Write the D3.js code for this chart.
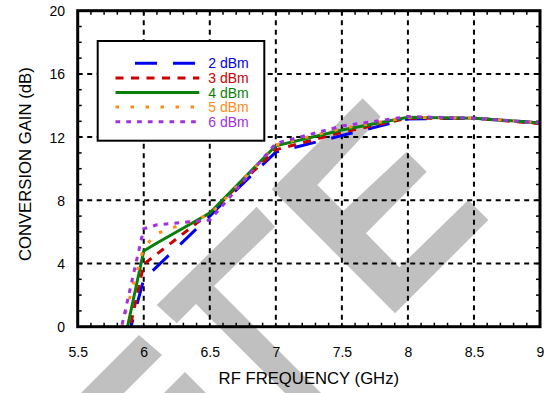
<!DOCTYPE html>
<html>
<head>
<meta charset="utf-8">
<script src="https://cdn.jsdelivr.net/npm/d3@7"></script>
<style>
  body { margin: 0; background: #fff; }
  svg { display: block; font-family: "Liberation Sans", Arial, sans-serif; }
</style>
</head>
<body>
<div class="chart"></div>
<script>
// Data
var freq  = [5.8, 5.9, 6.0, 6.1, 6.5, 6.6, 7.0, 7.5, 8.0, 8.5, 9.0];
var gain2 = [-3.2, -0.1, 3.0, 3.8, 7.0, 7.85, 11.05, 12.1, 13.15, 13.2, 12.9];
var gain3 = [-3.6, 0.1, 3.95, 4.6, 7.2, 8.0, 11.2, 12.3, 13.2, 13.2, 12.85];
var gain4 = [-3.0, 0.9, 4.8, 5.3, 7.2, 8.05, 11.45, 12.45, 13.25, 13.2, 12.9];
var gain5 = [-1.0, 2.0, 5.0, 5.9, 7.1, 7.95, 11.5, 12.55, 13.25, 13.2, 12.9];
var gain6 = [-1.2, 2.5, 6.2, 6.45, 6.75, 7.7, 11.6, 12.7, 13.3, 13.2, 12.9];
var seriesNames = ["2 dBm", "3 dBm", "4 dBm", "5 dBm", "6 dBm"];
var xTicks = [5.5, 6, 6.5, 7, 7.5, 8, 8.5, 9];
var yTicks = [0, 4, 8, 12, 16, 20];

var colors = ["#0000f0", "#cc0000", "#0a800a", "#ff8c1a", "#a030e0"];
var dashes = ["22,16", "8,7.5", null, "3.5,11.5", "4.7,6.1"];
var allGains = [gain2, gain3, gain4, gain5, gain6];

var svgWidth = 544, svgHeight = 393;
var margin = {top: 10.7, right: 4, bottom: 66.3, left: 77.7};
var width = svgWidth - margin.left - margin.right;   // 462.3
var height = svgHeight - margin.top - margin.bottom; // 316

var svg = d3.select(".chart").append("svg")
  .attr("width", svgWidth)
  .attr("height", svgHeight);

// Watermark (grey letter shapes behind the plot)
var marks = [
  [[271.7,189.3],[362.7,98.3],[380.7,116.7],[317.3,185],[343.3,211],[406.7,151.7],[426.7,171.7],
   [366,233.3],[399.3,267.3],[468.3,200],[488.3,220],[395,313.3]],
  [[156.7,305],[256.7,206.7],[275,226.7],[214,286],[334,406],[298,406],[196,304],[176.7,323.3]],
  [[139,335],[162,355],[117,400],[74,400]],
  [[185,372],[213,400],[157,400]]
];
svg.append("g").selectAll("polygon")
  .data(marks).enter().append("polygon")
  .attr("points", d => d.map(p => p.join(",")).join(" "))
  .attr("fill", "#c0c0c0");

var chartGroup = svg.append("g")
  .attr("transform", `translate(${margin.left}, ${margin.top})`);

var x = d3.scaleLinear().domain([5.5, 9]).range([0, width]);
var y = d3.scaleLinear().domain([0, 20]).range([height, 0]);

// Grid
chartGroup.append("g").selectAll("line")
  .data(xTicks.slice(1, -1)).enter().append("line")
  .attr("x1", d => x(d)).attr("x2", d => x(d))
  .attr("y1", 0).attr("y2", height)
  .attr("stroke", "#000").attr("stroke-width", 2).attr("stroke-dasharray", "5,4.5");
chartGroup.append("g").selectAll("line")
  .data(yTicks.slice(1, -1)).enter().append("line")
  .attr("y1", d => y(d)).attr("y2", d => y(d))
  .attr("x1", 0).attr("x2", width)
  .attr("stroke", "#000").attr("stroke-width", 2).attr("stroke-dasharray", "5,4.5");

// Minor ticks on all four sides
var xMinor = d3.range(56, 90).map(d => d / 10);
var yMinor = d3.range(1, 20);
var tickLen = 4;
var ticks = chartGroup.append("g").attr("stroke", "#000").attr("stroke-width", 1.5);
xMinor.forEach(function(v) {
  ticks.append("line").attr("x1", x(v)).attr("x2", x(v)).attr("y1", height).attr("y2", height - tickLen);
  ticks.append("line").attr("x1", x(v)).attr("x2", x(v)).attr("y1", 0).attr("y2", tickLen);
});
yMinor.forEach(function(v) {
  ticks.append("line").attr("y1", y(v)).attr("y2", y(v)).attr("x1", 0).attr("x2", tickLen);
  ticks.append("line").attr("y1", y(v)).attr("y2", y(v)).attr("x1", width).attr("x2", width - tickLen);
});

// Tick labels
var bottomAxis = d3.axisBottom(x).tickValues(xTicks).tickSize(0).tickPadding(0)
  .tickFormat(d3.format("~g"));
var leftAxis = d3.axisLeft(y).tickValues(yTicks).tickSize(0).tickPadding(0);
var gx = chartGroup.append("g").attr("transform", `translate(0, ${height})`).call(bottomAxis);
var gy = chartGroup.append("g").call(leftAxis);
[gx, gy].forEach(g => {
  g.select(".domain").remove();
  g.selectAll("text").attr("font-size", 14).attr("fill", "#000")
    .attr("font-family", "'Liberation Sans', Arial, sans-serif");
});
gx.selectAll("text").attr("dy", null).attr("y", 30);
gy.selectAll("text").attr("dy", null).attr("x", -12.7).attr("y", 5);

// Series
var clip = svg.append("defs").append("clipPath").attr("id", "plotclip");
clip.append("rect").attr("width", width).attr("height", height);

var line = d3.line().x((d, i) => x(freq[i])).y(d => y(d));
chartGroup.append("g").attr("clip-path", "url(#plotclip)")
  .selectAll("path")
  .data(allGains).enter().append("path")
  .attr("d", d => line(d))
  .attr("fill", "none")
  .attr("stroke", (d, i) => colors[i])
  .attr("stroke-width", 3)
  .attr("stroke-dasharray", (d, i) => dashes[i]);

// Frame
chartGroup.append("rect")
  .attr("width", width).attr("height", height)
  .attr("fill", "none").attr("stroke", "#000").attr("stroke-width", 3);

// Legend
var legend = svg.append("g");
legend.append("rect")
  .attr("x", 97.7).attr("y", 41).attr("width", 166.6).attr("height", 99.7)
  .attr("fill", "#fff").attr("stroke", "#000").attr("stroke-width", 2);
seriesNames.forEach(function(name, i) {
  var ry = 63.3 + i * 14.6;
  legend.append("line")
    .attr("x1", i == 0 ? 135 : 115.5).attr("x2", 199.3)
    .attr("y1", ry).attr("y2", ry)
    .attr("stroke", colors[i]).attr("stroke-width", 3)
    .attr("stroke-dasharray", dashes[i]);
  legend.append("text")
    .attr("x", 208.3).attr("y", ry + 5)
    .attr("font-size", 14).attr("fill", colors[i])
    .text(name);
});

// Axis titles
svg.append("text")
  .attr("x", margin.left + width / 2).attr("y", 384)
  .attr("text-anchor", "middle").attr("font-size", 16.7)
  .text("RF FREQUENCY (GHz)");
svg.append("text")
  .attr("transform", "translate(30.5, 164.2) rotate(-90)")
  .attr("text-anchor", "middle").attr("font-size", 16.7)
  .text("CONVERSION GAIN (dB)");
</script>
</body>
</html>
